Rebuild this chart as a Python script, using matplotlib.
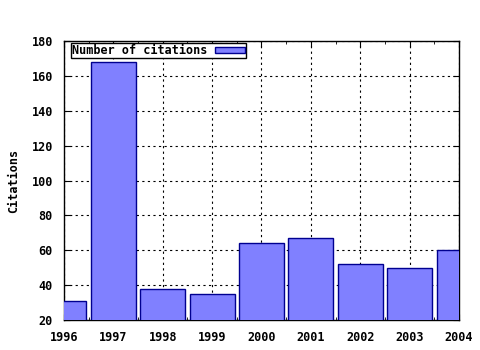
import numpy as np
import matplotlib.pyplot as plt

years = np.array([1996, 1997, 1998, 1999, 2000, 2001, 2002, 2003, 2004])
citations = np.array([31, 168, 38, 35, 64, 67, 52, 50, 60])

plt.rcParams['font.family'] = 'DejaVu Sans Mono'
plt.rcParams['font.weight'] = 'bold'
plt.rcParams['font.size'] = 8.5

fig = plt.figure(figsize=(4.8, 3.5), dpi=100)
ax = fig.add_axes([0.1333, 0.0857, 0.8229, 0.7971])

ax.bar(years, citations, width=0.91, color='#8080ff', edgecolor='#000090',
       linewidth=1, label='Number of citations', zorder=3)

ax.set_xlim(1996, 2004)
ax.set_ylim(20, 180)
ax.set_xticks(years)
ax.set_yticks(np.arange(20, 181, 20))
ax.set_xticks(np.arange(1996, 2004.01, 0.5), minor=True)
ax.grid(True, linestyle=(0, (2, 3)), color='black', linewidth=0.8, zorder=0)
ax.tick_params(direction='in', top=True, right=True, length=4, width=0.8, pad=8)
ax.tick_params(which='minor', direction='in', top=True, length=2)
for s in ax.spines.values():
    s.set_linewidth(1)
ax.set_ylabel('Citations', fontweight='bold', labelpad=8)

leg = ax.legend(loc='upper left', bbox_to_anchor=(0.0177, 0.993),
                borderaxespad=0, markerfirst=False, fancybox=False,
                framealpha=1, edgecolor='black', borderpad=0.1,
                handlelength=2.6, handleheight=0.5, handletextpad=0.6)
leg.get_frame().set_linewidth(1)
leg.set_zorder(5)

fig.savefig('out.png', dpi=100)
